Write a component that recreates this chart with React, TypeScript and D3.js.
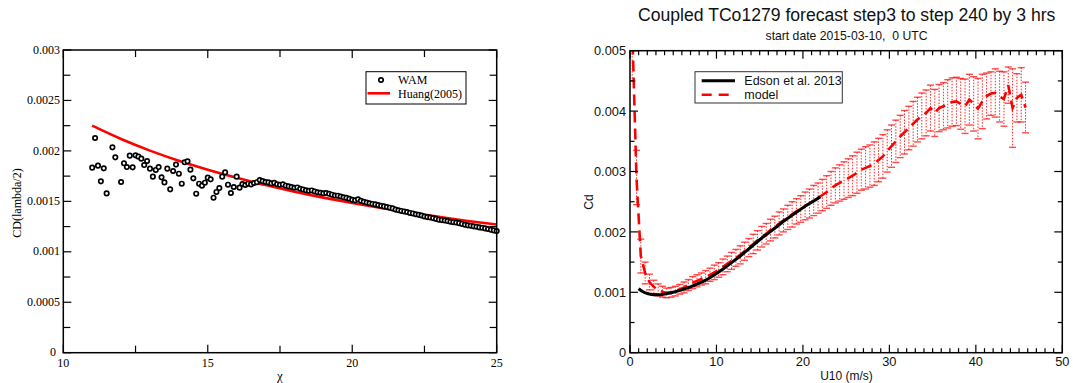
import { useEffect, useRef } from 'react';
import * as d3 from 'd3';

const W = 1073;
const H = 383;

// ---- left panel: WAM drag coefficient vs chi, values in 1e-3 ----
const wamChiStart = 11;
const wamChiStep = 0.1;
const wamCd = [
  1.834, 2.128, 1.854, 1.698, 1.827, 1.579, null, 2.035, 1.936, null,
  1.692, 1.877, 1.840, 1.953, 1.837, 1.956, 1.943, 1.923, 1.860, 1.900,
  1.824, 1.745, 1.811, 1.840, 1.738, 1.688, 1.824, 1.619, 1.801, 1.864,
  1.774, 1.675, 1.887, 1.897, 1.814, 1.728, 1.576, 1.675, 1.655, 1.685,
  1.735, 1.718, 1.536, 1.593, 1.632, 1.745, 1.788, 1.665, 1.583, 1.642,
  1.745, 1.636, 1.672, 1.662, 1.675, 1.668, 1.682, 1.690, 1.711, 1.700,
  1.692, 1.688, 1.678, 1.684, 1.670, 1.664, 1.668, 1.655, 1.648, 1.642,
  1.635, 1.638, 1.625, 1.618, 1.610, 1.604, 1.608, 1.598, 1.590, 1.585,
  1.580, 1.583, 1.575, 1.566, 1.558, 1.556, 1.548, 1.540, 1.534, 1.526,
  1.515, 1.510, 1.520, 1.505, 1.496, 1.488, 1.481, 1.474, 1.470, 1.463,
  1.456, 1.450, 1.444, 1.437, 1.430, 1.418, 1.412, 1.405, 1.400, 1.394,
  1.385, 1.380, 1.372, 1.366, 1.360, 1.350, 1.344, 1.340, 1.334, 1.326,
  1.318, 1.314, 1.310, 1.305, 1.298, 1.294, 1.290, 1.284, 1.276, 1.268,
  1.262, 1.258, 1.252, 1.248, 1.242, 1.238, 1.232, 1.226, 1.218, 1.212,
  1.205,
];
const huangChi = [11, 12, 13, 14, 15, 16, 17, 18, 19, 20, 21, 22, 23, 24, 25];
const huangCd = [2.25, 2.118, 2.003, 1.902, 1.813, 1.733, 1.661, 1.596, 1.537, 1.483, 1.434, 1.388, 1.346, 1.306, 1.27];
const leftXTicks = [10, 15, 20, 25];
const leftXMinor = [12.5, 17.5, 22.5];
const leftYTicks = [0, 0.0005, 0.001, 0.0015, 0.002, 0.0025, 0.003];
const leftYMinor = [0.00025, 0.00075, 0.00125, 0.00175, 0.00225, 0.00275];

// ---- right panel: Cd vs U10, values in 1e-3 ----
const edsonU = [1, 1.5, 2, 2.5, 3, 3.5, 4, 5, 6, 7, 8, 9, 10, 11, 12, 13, 14, 15, 16, 17, 18, 19, 20, 21, 22];
const edsonCd = [1.06, 1.01, 0.98, 0.965, 0.96, 0.96, 0.97, 1.0, 1.04, 1.09, 1.15, 1.22, 1.31, 1.41, 1.52, 1.63, 1.75, 1.87, 1.98, 2.09, 2.2, 2.3, 2.4, 2.49, 2.58];
const modelUStart = 0.25;
const modelUStep = 0.5;
const modelCd = [
  5.40, 2.90, 1.60, 1.32, 1.17, 1.09, 1.04, 1.01, 0.99, 1.00,
  1.02, 1.05, 1.08, 1.12, 1.16, 1.19, 1.22, 1.25, 1.29, 1.33,
  1.37, 1.42, 1.47, 1.52, 1.57, 1.62, 1.68, 1.74, 1.80, 1.86,
  1.92, 1.97, 2.03, 2.08, 2.14, 2.19, 2.24, 2.29, 2.34, 2.38,
  2.43, 2.47, 2.52, 2.56, 2.61, 2.66, 2.72, 2.77, 2.81, 2.85,
  2.89, 2.93, 2.98, 3.03, 3.06, 3.09, 3.13, 3.19, 3.25, 3.34,
  3.42, 3.50, 3.58, 3.65, 3.72, 3.79, 3.86, 3.92, 3.97, 4.05,
  3.97, 4.05, 4.08, 4.12, 4.15, 4.16, 4.12, 4.08, 4.19, 4.12,
  4.04, 4.16, 4.25, 4.29, 4.30, 4.24, 4.20, 4.43, 4.05, 4.22,
  4.27, 4.06,
];
const modelStd = [
  0.90, 0.45, 0.28, 0.18, 0.13, 0.11, 0.10, 0.09, 0.08, 0.08,
  0.08, 0.08, 0.09, 0.09, 0.10, 0.10, 0.10, 0.11, 0.11, 0.12,
  0.12, 0.13, 0.13, 0.14, 0.14, 0.15, 0.15, 0.15, 0.16, 0.16,
  0.17, 0.17, 0.18, 0.18, 0.19, 0.19, 0.20, 0.21, 0.21, 0.22,
  0.23, 0.24, 0.25, 0.25, 0.26, 0.27, 0.28, 0.29, 0.30, 0.31,
  0.32, 0.33, 0.34, 0.34, 0.35, 0.35, 0.36, 0.36, 0.36, 0.35,
  0.35, 0.35, 0.35, 0.36, 0.36, 0.37, 0.37, 0.38, 0.38, 0.38,
  0.39, 0.39, 0.39, 0.40, 0.40, 0.40, 0.42, 0.45, 0.42, 0.45,
  0.50, 0.45, 0.38, 0.36, 0.40, 0.42, 0.45, 0.30, 0.65, 0.40,
  0.45, 0.42,
];
const rightXTicks = [0, 10, 20, 30, 40, 50];
const rightXMinor = d3.range(1, 50).filter((v) => v % 10 !== 0);
const rightYTicks = [0, 0.001, 0.002, 0.003, 0.004, 0.005];
const rightYMinor = [0.0005, 0.0015, 0.0025, 0.0035, 0.0045];

const SERIF = '"Liberation Serif", "Times New Roman", serif';
const SANS = '"Liberation Sans", Arial, Helvetica, sans-serif';

type Sel = d3.Selection<SVGGElement, unknown, null, undefined>;

function drawFrame(
  g: Sel,
  x: d3.ScaleLinear<number, number>,
  y: d3.ScaleLinear<number, number>,
  xMajor: number[],
  xMinor: number[],
  yMajor: number[],
  yMinor: number[],
  majorLen: number,
  minorLen: number,
) {
  const [x0, x1] = x.range();
  const [y0, y1] = y.range(); // y0 bottom, y1 top
  const tick = (x1a: number, y1a: number, x2a: number, y2a: number) =>
    g.append('line')
      .attr('x1', x1a).attr('y1', y1a).attr('x2', x2a).attr('y2', y2a)
      .attr('stroke', '#000').attr('stroke-width', 1.2);
  xMajor.forEach((v) => { tick(x(v), y0, x(v), y0 - majorLen); tick(x(v), y1, x(v), y1 + majorLen); });
  xMinor.forEach((v) => { tick(x(v), y0, x(v), y0 - minorLen); tick(x(v), y1, x(v), y1 + minorLen); });
  yMajor.forEach((v) => { tick(x0, y(v), x0 + majorLen, y(v)); tick(x1, y(v), x1 - majorLen, y(v)); });
  yMinor.forEach((v) => { tick(x0, y(v), x0 + minorLen, y(v)); tick(x1, y(v), x1 - minorLen, y(v)); });
  g.append('rect')
    .attr('x', x0).attr('y', y1).attr('width', x1 - x0).attr('height', y0 - y1)
    .attr('fill', 'none').attr('stroke', '#000').attr('stroke-width', 1.5);
}

export default function App() {
  const svgRef = useRef<SVGSVGElement>(null);

  useEffect(() => {
    const svg = d3.select(svgRef.current);
    svg.selectAll('*').remove();
    svg.append('rect').attr('width', W).attr('height', H).attr('fill', '#fff');

    const fmt = d3.format('~g');

    // ===== Left panel =====
    const lx = d3.scaleLinear().domain([10, 25]).range([63.3, 496.7]);
    const ly = d3.scaleLinear().domain([0, 0.003]).range([352.7, 50]);
    const left = svg.append('g');

    // Huang curve
    const huangLine = d3.line<number>()
      .x((_, i) => lx(huangChi[i]))
      .y((d) => ly(d * 1e-3))
      .curve(d3.curveNatural);
    left.append('path')
      .attr('d', huangLine(huangCd))
      .attr('fill', 'none').attr('stroke', '#ff0000').attr('stroke-width', 2.6);

    // WAM circles
    wamCd.forEach((v, i) => {
      if (v == null) return;
      left.append('circle')
        .attr('cx', lx(wamChiStart + i * wamChiStep))
        .attr('cy', ly(v * 1e-3))
        .attr('r', 2.2)
        .attr('fill', '#fff').attr('stroke', '#000').attr('stroke-width', 1.7);
    });

    drawFrame(left, lx, ly, leftXTicks, leftXMinor, leftYTicks, leftYMinor, 8, 7);

    leftXTicks.forEach((v) => {
      left.append('text').attr('x', lx(v)).attr('y', 367)
        .attr('text-anchor', 'middle').attr('font-family', SERIF).attr('font-size', 12)
        .text(fmt(v));
    });
    leftYTicks.forEach((v) => {
      left.append('text').attr('x', v === 0 ? 56 : 60).attr('y', ly(v)).attr('dy', '0.3em')
        .attr('text-anchor', 'end').attr('font-family', SERIF).attr('font-size', 12)
        .text(fmt(v));
    });
    left.append('text').attr('x', 280).attr('y', 380)
      .attr('text-anchor', 'middle').attr('font-family', SERIF).attr('font-size', 13)
      .text('χ');
    left.append('text')
      .attr('transform', 'translate(21,203) rotate(-90)')
      .attr('text-anchor', 'middle').attr('font-family', SERIF).attr('font-size', 12)
      .text('CD(lambda/2)');

    // legend
    left.append('rect').attr('x', 366).attr('y', 71.7).attr('width', 100).attr('height', 32.3)
      .attr('fill', '#fff').attr('stroke', '#000').attr('stroke-width', 1);
    left.append('circle').attr('cx', 381).attr('cy', 80).attr('r', 2.2)
      .attr('fill', '#fff').attr('stroke', '#000').attr('stroke-width', 1.7);
    left.append('text').attr('x', 398).attr('y', 84).attr('font-family', SERIF).attr('font-size', 12).text('WAM');
    left.append('line').attr('x1', 367.5).attr('x2', 390).attr('y1', 93.3).attr('y2', 93.3)
      .attr('stroke', '#ff0000').attr('stroke-width', 2.6);
    left.append('text').attr('x', 398).attr('y', 98).attr('font-family', SERIF).attr('font-size', 12).text('Huang(2005)');

    // ===== Right panel =====
    const rx = d3.scaleLinear().domain([0, 50]).range([630, 1062.3]);
    const ry = d3.scaleLinear().domain([0, 0.005]).range([352.7, 50.7]);
    const right = svg.append('g');

    right.append('clipPath').attr('id', 'rclip')
      .append('rect').attr('x', 630).attr('y', 50.7).attr('width', 432.3).attr('height', 302);
    const plot = right.append('g').attr('clip-path', 'url(#rclip)');

    // error bars
    modelCd.forEach((m, i) => {
      const u = modelUStart + i * modelUStep;
      const s = modelStd[i];
      const cx = rx(u);
      const yTop = ry((m + s) * 1e-3);
      const yBot = ry((m - s) * 1e-3);
      plot.append('line').attr('x1', cx).attr('x2', cx).attr('y1', yTop).attr('y2', yBot)
        .attr('stroke', '#ff0000').attr('stroke-width', 1).attr('stroke-dasharray', '1.5,1.5')
        .attr('opacity', 0.85);
      [yTop, yBot].forEach((yy) => {
        plot.append('line').attr('x1', cx - 3.5).attr('x2', cx + 3.5).attr('y1', yy).attr('y2', yy)
          .attr('stroke', '#ff0000').attr('stroke-width', 1.4).attr('opacity', 0.7);
      });
    });

    // model dashed line
    const modelLine = d3.line<number>()
      .x((_, i) => rx(modelUStart + i * modelUStep))
      .y((d) => ry(d * 1e-3));
    plot.append('path').attr('d', modelLine(modelCd))
      .attr('fill', 'none').attr('stroke', '#ff0000').attr('stroke-width', 2.6)
      .attr('stroke-dasharray', '11,6');

    // Edson line
    const edsonLine = d3.line<number>()
      .x((_, i) => rx(edsonU[i]))
      .y((d) => ry(d * 1e-3))
      .curve(d3.curveMonotoneX);
    plot.append('path').attr('d', edsonLine(edsonCd))
      .attr('fill', 'none').attr('stroke', '#000').attr('stroke-width', 3);

    drawFrame(right, rx, ry, rightXTicks, rightXMinor, rightYTicks, rightYMinor, 8, 4.5);

    rightXTicks.forEach((v) => {
      right.append('text').attr('x', rx(v)).attr('y', 366)
        .attr('text-anchor', 'middle').attr('font-family', SANS).attr('font-size', 12.8)
        .attr('fill', '#111').text(fmt(v));
    });
    rightYTicks.forEach((v) => {
      right.append('text').attr('x', 626).attr('y', ry(v)).attr('dy', '0.36em')
        .attr('text-anchor', 'end').attr('font-family', SANS).attr('font-size', 12.8)
        .attr('fill', '#111').text(fmt(v));
    });
    right.append('text').attr('x', 846.5).attr('y', 380)
      .attr('text-anchor', 'middle').attr('font-family', SANS).attr('font-size', 12)
      .attr('fill', '#111').text('U10 (m/s)');
    right.append('text')
      .attr('transform', 'translate(592.5,202) rotate(-90)')
      .attr('text-anchor', 'middle').attr('font-family', SANS).attr('font-size', 12)
      .attr('fill', '#111').text('Cd');

    right.append('text').attr('x', 846.7).attr('y', 21)
      .attr('text-anchor', 'middle').attr('font-family', SANS).attr('font-size', 17.6)
      .attr('fill', '#111').text('Coupled TCo1279 forecast step3 to step 240 by 3 hrs');
    right.append('text').attr('x', 846.5).attr('y', 39.5)
      .attr('text-anchor', 'middle').attr('font-family', SANS).attr('font-size', 12.2)
      .attr('fill', '#111').attr('xml:space', 'preserve').style('white-space', 'pre')
      .text('start date 2015-03-10,  0 UTC');

    // legend
    right.append('rect').attr('x', 695).attr('y', 71.7).attr('width', 147.3).attr('height', 31.3)
      .attr('fill', '#fff').attr('stroke', '#333').attr('stroke-width', 1);
    right.append('line').attr('x1', 701.7).attr('x2', 735).attr('y1', 80.7).attr('y2', 80.7)
      .attr('stroke', '#000').attr('stroke-width', 3);
    right.append('text').attr('x', 744.3).attr('y', 85).attr('font-family', SANS).attr('font-size', 12.5)
      .attr('fill', '#111').text('Edson et al. 2013');
    right.append('line').attr('x1', 701.7).attr('x2', 735).attr('y1', 94.7).attr('y2', 94.7)
      .attr('stroke', '#ff0000').attr('stroke-width', 2.6).attr('stroke-dasharray', '10,7');
    right.append('text').attr('x', 744.3).attr('y', 99).attr('font-family', SANS).attr('font-size', 12.5)
      .attr('fill', '#111').text('model');
  }, []);

  return (
    <svg
      ref={svgRef}
      width={W}
      height={H}
      style={{ position: 'absolute', left: 0, top: 0, display: 'block' }}
    />
  );
}
